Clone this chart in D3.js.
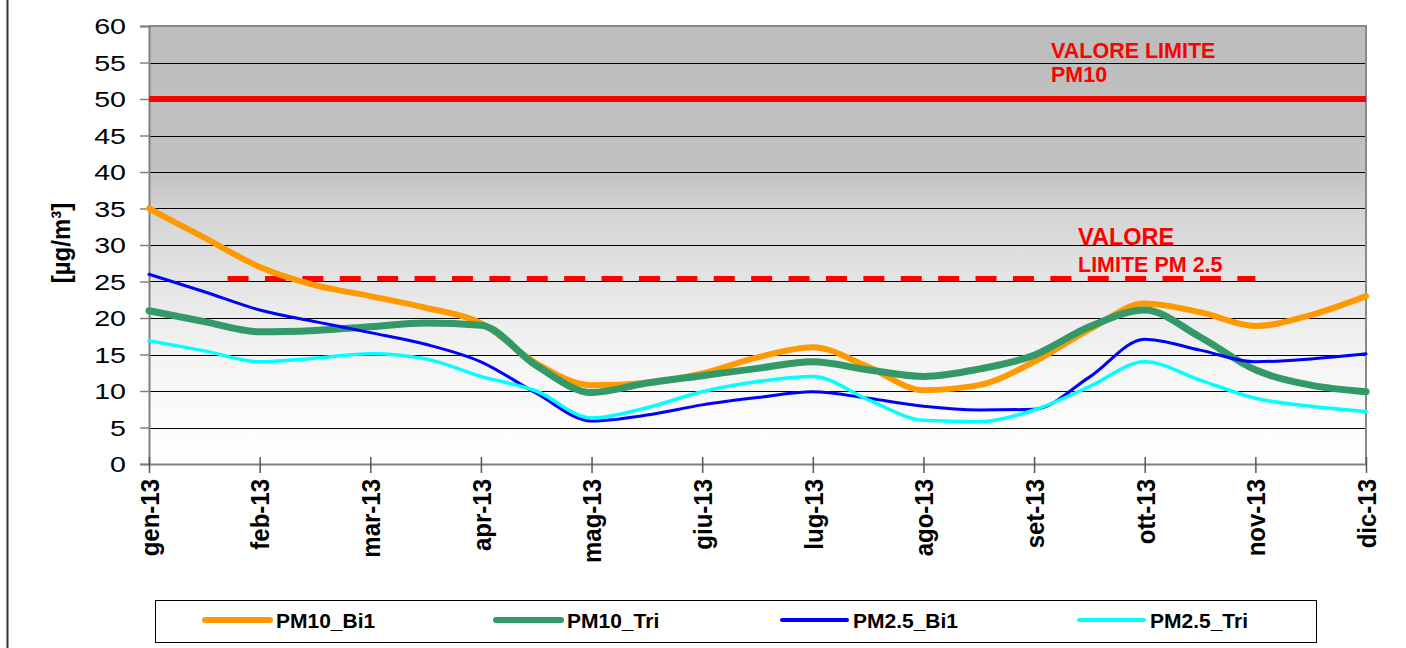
<!DOCTYPE html>
<html>
<head>
<meta charset="utf-8">
<script src="https://cdn.jsdelivr.net/npm/d3@7"></script>
<style>
  body { margin: 0; background: #fff; }
  svg { display: block; font-family: "Liberation Sans", Arial, sans-serif; }
</style>
</head>
<body>
<svg class="chart" width="1406" height="648"></svg>
<script>
const months = ["gen-13", "feb-13", "mar-13", "apr-13", "mag-13", "giu-13",
                "lug-13", "ago-13", "set-13", "ott-13", "nov-13", "dic-13"];

// sample positions, in months from gen-13 (twice a month)
const samplePos = [0, 0.5, 1, 1.5, 2, 2.5, 3, 3.5, 4, 4.5, 5, 5.5,
                   6, 6.5, 7, 7.5, 8, 8.5, 9, 9.5, 10, 10.5, 11];

const pm10Bi1 = [35, 31, 27, 24.5, 23, 21.4, 19.3, 13.8, 10.8, 11.1, 12.4, 14.6,
                 16, 13.3, 10.1, 10.8, 14, 18.4, 22, 20.8, 18.9, 20.4, 23];
const pm10Tri = [21, 19.5, 18.1, 18.3, 18.8, 19.3, 19, 13.5, 9.8, 11.1, 12.1, 13.1,
                 14, 12.9, 12, 13, 14.9, 18.8, 21.1, 17.4, 12.9, 10.8, 9.9];
const pm25Bi1 = [26, 23.6, 21.1, 19.5, 18, 16.4, 14, 9.7, 5.9, 6.7, 8.1, 9.1,
                 9.9, 9, 7.9, 7.4, 7.5, 11.9, 17.1, 15.6, 14, 14.4, 15.1];
const pm25Tri = [16.9, 15.5, 14, 14.5, 15.1, 14.4, 12, 10, 6.3, 7.7, 9.9, 11.3,
                 12, 8.8, 6, 5.8, 7.4, 10.6, 14, 11.5, 9, 7.9, 7.2];

const yTicks = [0, 5, 10, 15, 20, 25, 30, 35, 40, 45, 50, 55, 60];

const limitPM10 = 50;
const limitPM25 = 25.4;
const limitPM25Span = [0.71, 10];

const series = [
  {name: "PM10_Bi1", values: pm10Bi1, color: "#FF9900", width: 6, legendWidth: 6},
  {name: "PM10_Tri", values: pm10Tri, color: "#339966", width: 7, legendWidth: 6},
  {name: "PM2.5_Bi1", values: pm25Bi1, color: "#0000FF", width: 3, legendWidth: 4},
  {name: "PM2.5_Tri", values: pm25Tri, color: "#00FFFF", width: 3.5, legendWidth: 4}
];

const margin = {top: 26, left: 149, right: 40, bottom: 184};
const W = 1406, H = 648;
const plotW = W - margin.left - margin.right;
const plotH = H - margin.top - margin.bottom;

const svg = d3.select("svg.chart");

// left frame line
svg.append("line")
  .attr("x1", 7.5).attr("x2", 7.5).attr("y1", 0).attr("y2", H)
  .attr("stroke", "#333").attr("stroke-width", 2);

const x = d3.scaleLinear().domain([0, 11]).range([0, plotW]);
const y = d3.scaleLinear().domain([0, 60]).range([plotH, 0]);

const defs = svg.append("defs");
const grad = defs.append("linearGradient")
  .attr("id", "bgGrad").attr("x1", 0).attr("x2", 0).attr("y1", 0).attr("y2", 1);
[[0, "#BDBDBD"], [0.33, "#C1C1C1"], [0.42, "#D3D3D3"], [0.5, "#DCDCDC"],
 [0.58, "#E4E4E4"], [0.67, "#EDEDED"], [0.75, "#F3F3F3"], [0.85, "#F9F9F9"], [1, "#FFFFFF"]]
  .forEach(s => grad.append("stop").attr("offset", s[0]).attr("stop-color", s[1]));

const g = svg.append("g").attr("transform", `translate(${margin.left},${margin.top})`);

g.append("rect")
  .attr("width", plotW).attr("height", plotH)
  .attr("fill", "url(#bgGrad)");

// horizontal grid
g.append("g")
  .selectAll("line")
  .data(yTicks.filter(d => d > 0 && d < 60))
  .join("line")
  .attr("x1", 0).attr("x2", plotW)
  .attr("y1", d => Math.round(y(d)) + 0.5).attr("y2", d => Math.round(y(d)) + 0.5)
  .attr("stroke", "#000").attr("stroke-width", 1);

// top and right border
g.append("path")
  .attr("d", `M0,${y(60)}H${plotW}V${plotH}`)
  .attr("fill", "none").attr("stroke", "#8a8a8a").attr("stroke-width", 2);

// y axis
const yAxis = g.append("g")
  .call(d3.axisLeft(y).tickValues(yTicks).tickSize(9).tickPadding(0));
yAxis.select(".domain").attr("stroke", "#808080").attr("stroke-width", 2);
yAxis.selectAll(".tick line").attr("stroke", "#808080").attr("stroke-width", 1.5);
yAxis.selectAll(".tick text")
  .attr("x", 0)
  .attr("transform", "translate(-23,0) scale(1.3,1)")
  .attr("dy", "0.36em")
  .style("font-size", "22px")
  .attr("fill", "#000");

// x axis
const xAxis = g.append("g")
  .attr("transform", `translate(0,${plotH})`)
  .call(d3.axisBottom(x).tickValues(d3.range(months.length))
    .tickFormat(i => months[i]).tickSizeInner(9).tickSizeOuter(0));
xAxis.select(".domain").attr("stroke", "#808080").attr("stroke-width", 2);
xAxis.selectAll(".tick line").attr("y1", -7).attr("stroke", "#555").attr("stroke-width", 1.5);
xAxis.selectAll(".tick text")
  .attr("x", 0).attr("y", 0).attr("dy", "0.36em")
  .attr("transform", "translate(0,15) scale(1.08,1) rotate(-90)")
  .attr("text-anchor", "end")
  .style("font-size", "24px").style("font-weight", "bold")
  .attr("fill", "#000");

// y title
svg.append("text")
  .attr("transform", "translate(60,243) scale(1.1,1) rotate(-90)")
  .attr("text-anchor", "middle").attr("dy", "0.36em")
  .style("font-size", "24px").style("font-weight", "bold")
  .text("[µg/m³]");

// limit lines
g.append("line")
  .attr("x1", 0).attr("x2", plotW)
  .attr("y1", y(limitPM10)).attr("y2", y(limitPM10))
  .attr("stroke", "#FF0000").attr("stroke-width", 6);

g.append("line")
  .attr("x1", x(limitPM25Span[0])).attr("x2", x(limitPM25Span[1]))
  .attr("y1", y(limitPM25)).attr("y2", y(limitPM25))
  .attr("stroke", "#FF0000").attr("stroke-width", 5)
  .attr("stroke-dasharray", "21 16.4");

const redText = [
  {t: "VALORE LIMITE", x: 1051, y: 58, size: 21.5},
  {t: "PM10", x: 1051, y: 82, size: 21.5},
  {t: "VALORE", x: 1078, y: 245, size: 23.5},
  {t: "LIMITE PM 2.5", x: 1078, y: 272, size: 21.5}
];
svg.append("g").selectAll("text")
  .data(redText)
  .join("text")
  .attr("x", d => d.x).attr("y", d => d.y)
  .style("font-size", d => d.size + "px").style("font-weight", "bold")
  .attr("fill", "#FF0000")
  .text(d => d.t);

// data lines
const line = d3.line()
  .x((d, i) => x(samplePos[i]))
  .y(d => y(d))
  .curve(d3.curveMonotoneX);

g.append("g")
  .selectAll("path")
  .data(series)
  .join("path")
  .attr("d", d => line(d.values))
  .attr("fill", "none")
  .attr("stroke", d => d.color)
  .attr("stroke-width", d => d.width)
  .attr("stroke-linejoin", "round")
  .attr("stroke-linecap", "round");

// legend
const legend = svg.append("g");
legend.append("rect")
  .attr("x", 155.5).attr("y", 600.5).attr("width", 1161).attr("height", 42)
  .attr("fill", "#fff").attr("stroke", "#000").attr("stroke-width", 1);

const legX = [205, 496, 782, 1079];
const item = legend.selectAll("g.item")
  .data(series)
  .join("g")
  .attr("class", "item")
  .attr("transform", (d, i) => `translate(${legX[i]},620)`);
item.append("line")
  .attr("x1", 0).attr("x2", 65).attr("y1", 0).attr("y2", 0)
  .attr("stroke", d => d.color).attr("stroke-width", d => d.legendWidth)
  .attr("stroke-linecap", "round");
item.append("text")
  .attr("x", 71).attr("dy", "0.36em")
  .style("font-size", "21px").style("font-weight", "bold")
  .text(d => d.name);
</script>
</body>
</html>
